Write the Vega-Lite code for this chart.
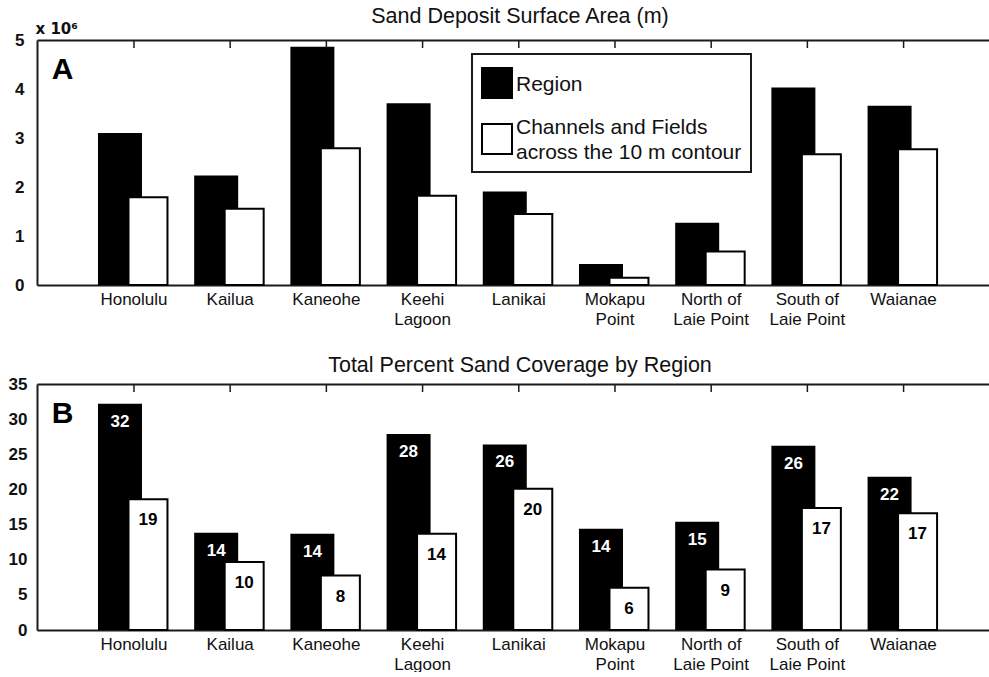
{
  "$schema": "https://vega.github.io/schema/vega-lite/v6.json",
  "padding": {"left": 5, "top": 6, "right": 0, "bottom": 0},
  "spacing": 27,
  "config": {
    "font": "Liberation Sans",
    "view": {"stroke": null},
    "axis": {"grid": false, "domainColor": "#1a1a1a", "domainWidth": 2, "labelColor": "#111", "tickColor": "#1a1a1a"},
    "title": {"fontSize": 21.5, "fontWeight": "normal", "color": "#111", "anchor": "middle", "dx": 7}
  },
  "datasets": {
    "area": [
      {"region": "Honolulu", "series": "Region", "area": 3100000},
      {"region": "Honolulu", "series": "Channels", "area": 1790000},
      {"region": "Kailua", "series": "Region", "area": 2235000},
      {"region": "Kailua", "series": "Channels", "area": 1555000},
      {"region": "Kaneohe", "series": "Region", "area": 4860000},
      {"region": "Kaneohe", "series": "Channels", "area": 2790000},
      {"region": "Keehi Lagoon", "series": "Region", "area": 3710000},
      {"region": "Keehi Lagoon", "series": "Channels", "area": 1820000},
      {"region": "Lanikai", "series": "Region", "area": 1910000},
      {"region": "Lanikai", "series": "Channels", "area": 1450000},
      {"region": "Mokapu Point", "series": "Region", "area": 430000},
      {"region": "Mokapu Point", "series": "Channels", "area": 150000},
      {"region": "North of Laie Point", "series": "Region", "area": 1270000},
      {"region": "North of Laie Point", "series": "Channels", "area": 685000},
      {"region": "South of Laie Point", "series": "Region", "area": 4030000},
      {"region": "South of Laie Point", "series": "Channels", "area": 2670000},
      {"region": "Waianae", "series": "Region", "area": 3660000},
      {"region": "Waianae", "series": "Channels", "area": 2770000}
    ],
    "coverage": [
      {"region": "Honolulu", "series": "Region", "pct": 32.2},
      {"region": "Honolulu", "series": "Channels", "pct": 18.6},
      {"region": "Kailua", "series": "Region", "pct": 13.85},
      {"region": "Kailua", "series": "Channels", "pct": 9.66},
      {"region": "Kaneohe", "series": "Region", "pct": 13.7},
      {"region": "Kaneohe", "series": "Channels", "pct": 7.74},
      {"region": "Keehi Lagoon", "series": "Region", "pct": 27.9},
      {"region": "Keehi Lagoon", "series": "Channels", "pct": 13.7},
      {"region": "Lanikai", "series": "Region", "pct": 26.4},
      {"region": "Lanikai", "series": "Channels", "pct": 20.1},
      {"region": "Mokapu Point", "series": "Region", "pct": 14.4},
      {"region": "Mokapu Point", "series": "Channels", "pct": 6.0},
      {"region": "North of Laie Point", "series": "Region", "pct": 15.4},
      {"region": "North of Laie Point", "series": "Channels", "pct": 8.6},
      {"region": "South of Laie Point", "series": "Region", "pct": 26.2},
      {"region": "South of Laie Point", "series": "Channels", "pct": 17.36},
      {"region": "Waianae", "series": "Region", "pct": 21.8},
      {"region": "Waianae", "series": "Channels", "pct": 16.6}
    ]
  },
  "vconcat": [
    {
      "width": 952,
      "height": 245,
      "title": {"text": "Sand Deposit Surface Area (m)", "offset": -6.5},
      "data": {"name": "area"},
      "resolve": {"axis": {"x": "independent"}},
      "encoding": {
        "x": {"field": "region", "type": "nominal",
          "scale": {"domain": ["Honolulu", "Kailua", "Kaneohe", "Keehi Lagoon", "Lanikai", "Mokapu Point", "North of Laie Point", "South of Laie Point", "Waianae"], "paddingInner": 0, "paddingOuter": 0.448, "align": 0.567},
          "axis": {"orient": "bottom", "title": null, "ticks": false, "labelAngle": 0, "labelFontSize": 17, "labelPadding": 6, "labelLineHeight": 20, "labelBaseline": "top", "labelDx": 2,
            "labelExpr": "datum.value == 'Keehi Lagoon' ? ['Keehi', 'Lagoon'] : datum.value == 'Mokapu Point' ? ['Mokapu', 'Point'] : datum.value == 'North of Laie Point' ? ['North of', 'Laie Point'] : datum.value == 'South of Laie Point' ? ['South of', 'Laie Point'] : datum.value"}}
      },
      "layer": [
        {
          "transform": [{"filter": "datum.series == 'Region'"}],
          "mark": {"type": "bar", "width": 44, "xOffset": -14},
          "encoding": {
            "y": {"field": "area", "type": "quantitative",
              "scale": {"domain": [0, 5000000], "nice": false},
              "axis": {"values": [0, 1000000, 2000000, 3000000, 4000000, 5000000], "labelExpr": "format(datum.value / 1000000, 'd')", "ticks": false, "labelFontSize": 17, "labelFontWeight": "bold", "labelPadding": 13, "minExtent": 32, "maxExtent": 32,
                "title": "x 10⁶", "titleFont": "DejaVu Sans", "titleAngle": 0, "titleX": -2, "titleY": -7, "titleAlign": "left", "titleBaseline": "alphabetic", "titleFontSize": 15, "titleFontWeight": "bold", "titleColor": "#111"}},
            "color": {"field": "series", "type": "nominal",
              "scale": {"domain": ["Region", "Channels"], "range": ["#000000", "#ffffff"]},
              "legend": {"orient": "none", "legendX": 435, "legendY": 14, "title": " ", "titleFontSize": 1, "titlePadding": 3, "symbolType": "square", "symbolSize": 900, "symbolStrokeColor": "#000000", "symbolStrokeWidth": 2, "labelFontSize": 21, "labelColor": "#111", "labelLimit": 400, "labelOffset": 3, "padding": 9, "rowPadding": 15, "strokeColor": "#1a1a1a", "fillColor": "#ffffff",
                "labelExpr": "datum.value == 'Channels' ? ['Channels and Fields', 'across the 10 m contour'] : datum.value",
                "encode": {"labels": {"update": {"lineHeight": {"value": 25}, "dy": {"signal": "datum.value == 'Channels' ? -11 : 2"}}}, "legend": {"update": {"strokeWidth": {"value": 2}}}}}}
          }
        },
        {
          "transform": [{"filter": "datum.series == 'Channels'"}],
          "mark": {"type": "bar", "width": 39, "xOffset": 14, "stroke": "#000000", "strokeWidth": 2},
          "encoding": {
            "x": {"field": "region", "type": "nominal", "axis": null},
            "y": {"field": "area", "type": "quantitative",
              "scale": {"domain": [0, 5000000], "nice": false},
              "axis": {"values": [0, 1000000, 2000000, 3000000, 4000000, 5000000], "labelExpr": "format(datum.value / 1000000, 'd')", "ticks": false, "labelFontSize": 17, "labelFontWeight": "bold", "labelPadding": 13, "minExtent": 32, "maxExtent": 32,
                "title": "x 10⁶", "titleFont": "DejaVu Sans", "titleAngle": 0, "titleX": -2, "titleY": -7, "titleAlign": "left", "titleBaseline": "alphabetic", "titleFontSize": 15, "titleFontWeight": "bold", "titleColor": "#111"}},
            "color": {"field": "series", "type": "nominal"}
          }
        },
        {
          "transform": [{"filter": "datum.series == 'Region'"}],
          "mark": {"type": "rule", "strokeWidth": 1.5, "color": "#1a1a1a"},
          "encoding": {
            "x": {"field": "region", "type": "nominal",
              "axis": {"orient": "top", "labels": false, "ticks": false, "domain": true, "title": "A", "titleX": 25, "titleY": 29, "titleAngle": 0, "titleAlign": "center", "titleBaseline": "middle", "titleFontSize": 30, "titleFontWeight": "bold", "titleColor": "#000000"}},
            "y": {"datum": 5000000, "type": "quantitative",
              "axis": {"values": [0, 1000000, 2000000, 3000000, 4000000, 5000000], "labelExpr": "format(datum.value / 1000000, 'd')", "ticks": false, "labelFontSize": 17, "labelFontWeight": "bold", "labelPadding": 13, "minExtent": 32, "maxExtent": 32,
                "title": "x 10⁶", "titleFont": "DejaVu Sans", "titleAngle": 0, "titleX": -2, "titleY": -7, "titleAlign": "left", "titleBaseline": "alphabetic", "titleFontSize": 15, "titleFontWeight": "bold", "titleColor": "#111"}},
            "y2": {"datum": 4836000}
          }
        }
      ]
    },
    {
      "width": 952,
      "height": 246,
      "title": {"text": "Total Percent Sand Coverage by Region", "offset": -1},
      "data": {"name": "coverage"},
      "resolve": {"axis": {"x": "independent"}},
      "encoding": {
        "x": {"field": "region", "type": "nominal",
          "scale": {"domain": ["Honolulu", "Kailua", "Kaneohe", "Keehi Lagoon", "Lanikai", "Mokapu Point", "North of Laie Point", "South of Laie Point", "Waianae"], "paddingInner": 0, "paddingOuter": 0.448, "align": 0.567},
          "axis": {"orient": "bottom", "title": null, "ticks": false, "labelAngle": 0, "labelFontSize": 17, "labelPadding": 6, "labelLineHeight": 20, "labelBaseline": "top", "labelDx": 2,
            "labelExpr": "datum.value == 'Keehi Lagoon' ? ['Keehi', 'Lagoon'] : datum.value == 'Mokapu Point' ? ['Mokapu', 'Point'] : datum.value == 'North of Laie Point' ? ['North of', 'Laie Point'] : datum.value == 'South of Laie Point' ? ['South of', 'Laie Point'] : datum.value"}}
      },
      "layer": [
        {
          "transform": [{"filter": "datum.series == 'Region'"}],
          "mark": {"type": "bar", "width": 44, "xOffset": -14},
          "encoding": {
            "y": {"field": "pct", "type": "quantitative", "scale": {"domain": [0, 35], "nice": false},
              "axis": {"values": [0, 5, 10, 15, 20, 25, 30, 35], "ticks": false, "labelFontSize": 17, "labelFontWeight": "bold", "labelPadding": 10, "minExtent": 32, "maxExtent": 32, "title": null}},
            "color": {"field": "series", "type": "nominal", "legend": null}
          }
        },
        {
          "transform": [{"filter": "datum.series == 'Channels'"}],
          "mark": {"type": "bar", "width": 39, "xOffset": 14, "stroke": "#000000", "strokeWidth": 2},
          "encoding": {
            "x": {"field": "region", "type": "nominal", "axis": null},
            "y": {"field": "pct", "type": "quantitative", "scale": {"domain": [0, 35], "nice": false},
              "axis": {"values": [0, 5, 10, 15, 20, 25, 30, 35], "ticks": false, "labelFontSize": 17, "labelFontWeight": "bold", "labelPadding": 10, "minExtent": 32, "maxExtent": 32, "title": null}},
            "color": {"field": "series", "type": "nominal", "legend": null}
          }
        },
        {
          "transform": [{"filter": "datum.series == 'Region'"}],
          "mark": {"type": "rule", "strokeWidth": 1.5, "color": "#1a1a1a"},
          "encoding": {
            "x": {"field": "region", "type": "nominal",
              "axis": {"orient": "top", "labels": false, "ticks": false, "domain": true, "title": "B", "titleX": 25, "titleY": 29, "titleAngle": 0, "titleAlign": "center", "titleBaseline": "middle", "titleFontSize": 30, "titleFontWeight": "bold", "titleColor": "#000000"}},
            "y": {"datum": 35, "type": "quantitative",
              "axis": {"values": [0, 5, 10, 15, 20, 25, 30, 35], "ticks": false, "labelFontSize": 17, "labelFontWeight": "bold", "labelPadding": 10, "minExtent": 32, "maxExtent": 32, "title": null}},
            "y2": {"datum": 33.86}
          }
        },
        {
          "transform": [{"filter": "datum.series == 'Region'"}],
          "mark": {"type": "text", "xOffset": -14, "dy": 18, "color": "#ffffff", "fontSize": 17, "fontWeight": "bold", "baseline": "middle"},
          "encoding": {
            "x": {"field": "region", "type": "nominal", "axis": null},
            "y": {"field": "pct", "type": "quantitative",
              "axis": {"values": [0, 5, 10, 15, 20, 25, 30, 35], "ticks": false, "labelFontSize": 17, "labelFontWeight": "bold", "labelPadding": 10, "minExtent": 32, "maxExtent": 32, "title": null}},
            "text": {"field": "pct", "type": "quantitative", "format": ".0f"}
          }
        },
        {
          "transform": [{"filter": "datum.series == 'Channels'"}],
          "mark": {"type": "text", "xOffset": 14, "dy": 21, "color": "#000000", "fontSize": 17, "fontWeight": "bold", "baseline": "middle"},
          "encoding": {
            "x": {"field": "region", "type": "nominal", "axis": null},
            "y": {"field": "pct", "type": "quantitative",
              "axis": {"values": [0, 5, 10, 15, 20, 25, 30, 35], "ticks": false, "labelFontSize": 17, "labelFontWeight": "bold", "labelPadding": 10, "minExtent": 32, "maxExtent": 32, "title": null}},
            "text": {"field": "pct", "type": "quantitative", "format": ".0f"}
          }
        }
      ]
    }
  ]
}
